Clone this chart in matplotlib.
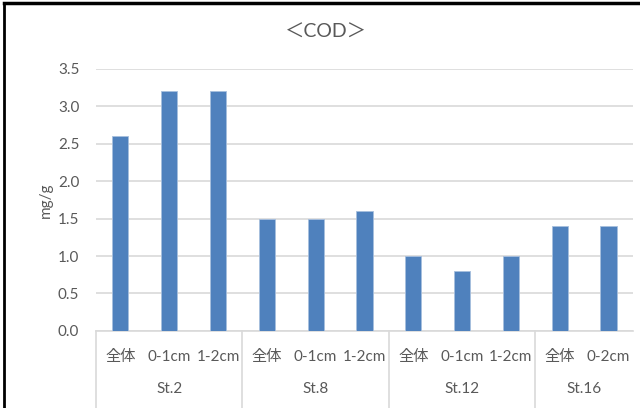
import matplotlib.pyplot as plt
from matplotlib.lines import Line2D

plt.rcParams['font.family'] = ['Lato', 'Noto Sans CJK JP', 'DejaVu Sans']

# data
stations = ["St.2", "St.8", "St.12", "St.16"]
layers = [["全体", "0-1cm", "1-2cm"],
          ["全体", "0-1cm", "1-2cm"],
          ["全体", "0-1cm", "1-2cm"],
          ["全体", "0-2cm"]]
cod = [[2.6, 3.2, 3.2],
       [1.5, 1.5, 1.6],
       [1.0, 0.8, 1.0],
       [1.4, 1.4]]

txt = "#595959"
grid = "#D9D9D9"

fig = plt.figure(figsize=(6.4, 4.08), dpi=100)
ax = fig.add_axes([0.15, 0.189, 0.839, 0.642])

labels = [l for grp in layers for l in grp]
values = [v for grp in cod for v in grp]
x = list(range(len(values)))
ax.bar(x, values, width=0.33, color="#4F81BD", edgecolor="#A7BFDE", linewidth=0.6, zorder=3)

ax.set_xlim(-0.5, len(values) - 0.5)
ax.set_ylim(0, 3.5)
ax.set_yticks([i * 0.5 for i in range(8)])
ax.set_yticklabels([f"{i * 0.5:.1f}" for i in range(8)], color=txt, fontsize=11)
ax.yaxis.grid(True, color=grid, linewidth=1.2, zorder=0)
ax.tick_params(axis="y", length=0, pad=12)
ax.set_xticks([])
for s in ["top", "right", "left"]:
    ax.spines[s].set_visible(False)
ax.spines["bottom"].set_color(grid)
ax.spines["bottom"].set_linewidth(1.2)

ax.set_ylabel("mg/g", color=txt, fontsize=11, labelpad=4)
fig.text(0.51, 0.92, "＜COD＞", color=txt, fontsize=14, ha="center", va="center")

# two level category axis
for xi, lab in zip(x, labels):
    ax.text(xi, -0.1, lab, transform=ax.get_xaxis_transform(), ha="center", va="center",
            color=txt, fontsize=11)
start = 0
for st, grp in zip(stations, layers):
    ax.add_line(Line2D([start - 0.5, start - 0.5], [0, -0.3], transform=ax.get_xaxis_transform(),
                       color=grid, linewidth=1.2, clip_on=False))
    mid = start + (len(grp) - 1) / 2
    ax.text(mid, -0.22, st, transform=ax.get_xaxis_transform(), ha="center", va="center",
            color=txt, fontsize=11)
    start += len(grp)

# chart border
fig.add_artist(Line2D([0.006, 0.006], [0, 0.993], transform=fig.transFigure, color="black", linewidth=2))
fig.add_artist(Line2D([0.006, 1], [0.993, 0.993], transform=fig.transFigure, color="black", linewidth=2.5))

fig.savefig("out.png", dpi=100)
